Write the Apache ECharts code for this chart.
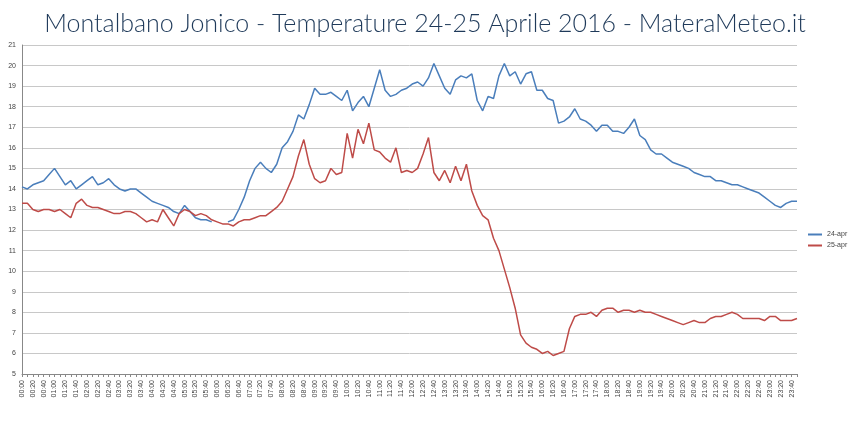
<!DOCTYPE html>
<html><head><meta charset="utf-8">
<script src="https://cdn.jsdelivr.net/npm/echarts@6/dist/echarts.min.js"></script>
<style>html,body{margin:0;padding:0;background:#fff}#c{width:850px;height:422px}</style>
</head><body><div id="c"></div>
<script>
const times = [];
for (let h = 0; h < 24; h++) for (let m = 0; m < 60; m += 10) times.push(String(h).padStart(2,'0') + ':' + String(m).padStart(2,'0'));
const seriesNames = ['24-apr', '25-apr'];
const temp24 = [
14.1,14.0,14.2,14.3,14.4,14.7, 15.0,14.6,14.2,14.4,14.0,14.2,
14.4,14.6,14.2,14.3,14.5,14.2, 14.0,13.9,14.0,14.0,13.8,13.6,
13.4,13.3,13.2,13.1,12.9,12.8, 13.2,12.9,12.6,12.5,12.5,12.4,
null,null,12.4,12.5,13.0,13.6, 14.4,15.0,15.3,15.0,14.8,15.2,
16.0,16.3,16.8,17.6,17.4,18.1, 18.9,18.6,18.6,18.7,18.5,18.3,
18.8,17.8,18.2,18.5,18.0,18.9, 19.8,18.8,18.5,18.6,18.8,18.9,
19.1,19.2,19.0,19.4,20.1,19.5, 18.9,18.6,19.3,19.5,19.4,19.6,
18.3,17.8,18.5,18.4,19.5,20.1, 19.5,19.7,19.1,19.6,19.7,18.8,
18.8,18.4,18.3,17.2,17.3,17.5, 17.9,17.4,17.3,17.1,16.8,17.1,
17.1,16.8,16.8,16.7,17.0,17.4, 16.6,16.4,15.9,15.7,15.7,15.5,
15.3,15.2,15.1,15.0,14.8,14.7, 14.6,14.6,14.4,14.4,14.3,14.2,
14.2,14.1,14.0,13.9,13.8,13.6, 13.4,13.2,13.1,13.3,13.4,13.4];
const temp25 = [
13.3,13.3,13.0,12.9,13.0,13.0, 12.9,13.0,12.8,12.6,13.3,13.5,
13.2,13.1,13.1,13.0,12.9,12.8, 12.8,12.9,12.9,12.8,12.6,12.4,
12.5,12.4,13.0,12.6,12.2,12.8, 13.0,12.9,12.7,12.8,12.7,12.5,
12.4,12.3,12.3,12.2,12.4,12.5, 12.5,12.6,12.7,12.7,12.9,13.1,
13.4,14.0,14.6,15.6,16.4,15.2, 14.5,14.3,14.4,15.0,14.7,14.8,
16.7,15.5,16.9,16.2,17.2,15.9, 15.8,15.5,15.3,16.0,14.8,14.9,
14.8,15.0,15.7,16.5,14.8,14.4, 14.9,14.3,15.1,14.4,15.2,13.9,
13.2,12.7,12.5,11.6,11.0,10.1, 9.2,8.2,6.9,6.5,6.3,6.2,
6.0,6.1,5.9,6.0,6.1,7.2, 7.8,7.9,7.9,8.0,7.8,8.1,
8.2,8.2,8.0,8.1,8.1,8.0, 8.1,8.0,8.0,7.9,7.8,7.7,
7.6,7.5,7.4,7.5,7.6,7.5, 7.5,7.7,7.8,7.8,7.9,8.0,
7.9,7.7,7.7,7.7,7.7,7.6, 7.8,7.8,7.6,7.6,7.6,7.7];
const yTicks = {min: 5, max: 21, interval: 1};

const chart = echarts.init(document.getElementById('c'), null, {renderer: 'canvas'});
chart.setOption({
  animation: false,
  title: {text: 'Montalbano Jonico - Temperature 24-25 Aprile 2016 - MateraMeteo.it', left: 'center', top: 6,
    textStyle: {fontFamily: 'Lato', fontWeight: 300, fontSize: 25, color: '#1f3a5a'}},
  legend: {orient: 'vertical', left: 803, top: 226, itemWidth: 14, itemHeight: 2, itemGap: 4,
    icon: 'rect', textStyle: {fontSize: 7, color: '#444'}, data: seriesNames},
  grid: {left: 22, right: 53, top: 45, bottom: 48},
  xAxis: {type: 'category', data: times, boundaryGap: false,
    axisLine: {lineStyle: {color: '#888'}},
    axisTick: {interval: 0, length: 3, lineStyle: {color: '#888'}},
    axisLabel: {interval: 1, rotate: 90, fontSize: 7, color: '#444', margin: 6}},
  yAxis: {type: 'value', min: yTicks.min, max: yTicks.max, interval: yTicks.interval,
    axisLine: {show: true, lineStyle: {color: '#888'}},
    axisLabel: {fontSize: 7, color: '#444', margin: 6},
    splitLine: {lineStyle: {color: '#c8c8c8'}}},
  series: [
    {name: seriesNames[0], type: 'line', data: temp24, symbol: 'none', connectNulls: false,
      lineStyle: {color: '#4a7ebb', width: 1.5}, itemStyle: {color: '#4a7ebb'}},
    {name: seriesNames[1], type: 'line', data: temp25, symbol: 'none',
      lineStyle: {color: '#be4b48', width: 1.5}, itemStyle: {color: '#be4b48'}}
  ]
});
</script></body></html>
